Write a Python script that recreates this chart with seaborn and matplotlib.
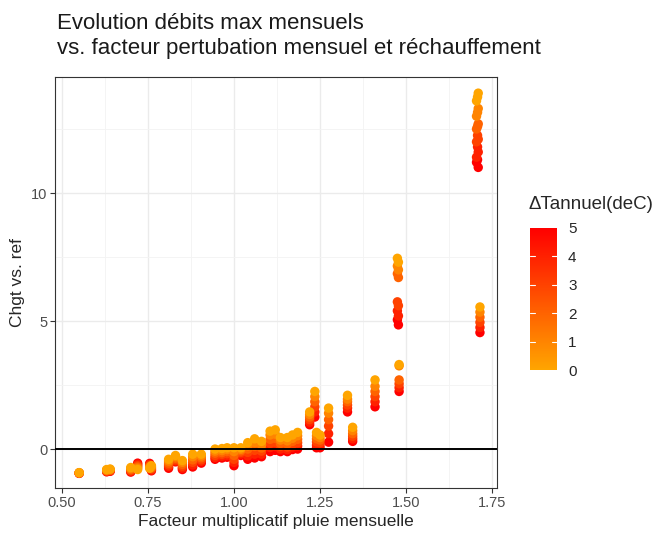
import matplotlib
matplotlib.use("Agg")
import matplotlib.pyplot as plt
import numpy as np
import pandas as pd
import seaborn as sns
from matplotlib.colors import LinearSegmentedColormap, Normalize
from matplotlib.cm import ScalarMappable
from matplotlib.ticker import MultipleLocator

# rain factor of each column, and change vs. reference for each warming level (0..5 degC)
factor = [0.55, 0.63, 0.64, 0.70, 0.72, 0.755, 0.76, 0.81, 0.83, 0.85, 0.88, 0.905,
          0.945, 0.965, 0.98, 1.00, 1.02, 1.04, 1.06, 1.08, 1.105, 1.12, 1.135, 1.155,
          1.17, 1.185, 1.22, 1.235, 1.24, 1.25, 1.275, 1.33, 1.345, 1.41,
          1.475, 1.478, 1.48, 1.705, 1.71, 1.715, 1.708]
chg_dt0 = [-0.92, -0.80, -0.78, -0.72, -0.80, -0.75, -0.65, -0.40, -0.25, -0.45, -0.20, -0.20,
           0.00, 0.02, 0.05, 0.05, 0.05, 0.25, 0.40, 0.30, 0.70, 0.75, 0.45, 0.45,
           0.55, 0.65, 1.45, 2.25, 0.65, 0.55, 1.60, 2.10, 0.85, 2.70,
           7.45, 7.30, 3.30, 13.60, 13.90, 5.55, 13.75]
chg_dt1 = [-0.93, -0.82, -0.80, -0.76, -0.75, -0.72, -0.70, -0.47, -0.30, -0.52, -0.30, -0.27,
           -0.08, -0.06, -0.02, -0.10, -0.01, 0.12, 0.25, 0.17, 0.55, 0.58, 0.35, 0.32,
           0.42, 0.52, 1.35, 2.05, 0.52, 0.45, 1.40, 1.95, 0.72, 2.45,
           7.15, 7.00, 3.25, 13.00, 13.30, 5.35, 13.15]
chg_dt2 = [-0.93, -0.84, -0.82, -0.80, -0.70, -0.68, -0.74, -0.55, -0.36, -0.60, -0.42, -0.34,
           -0.16, -0.14, -0.10, -0.25, -0.07, 0.00, 0.10, 0.04, 0.38, 0.42, 0.22, 0.20,
           0.30, 0.38, 1.25, 1.85, 0.40, 0.35, 1.15, 1.85, 0.60, 2.25,
           6.85, 6.70, 2.70, 12.50, 12.70, 5.15, 12.60]
chg_dt3 = [-0.94, -0.86, -0.84, -0.84, -0.65, -0.64, -0.78, -0.62, -0.42, -0.67, -0.52, -0.42,
           -0.25, -0.21, -0.18, -0.40, -0.13, -0.13, -0.05, -0.08, 0.22, 0.26, 0.10, 0.08,
           0.18, 0.25, 1.15, 1.65, 0.28, 0.25, 0.90, 1.72, 0.50, 2.05,
           5.75, 5.60, 2.55, 12.00, 12.10, 4.95, 12.25]
chg_dt4 = [-0.94, -0.87, -0.85, -0.87, -0.60, -0.60, -0.82, -0.68, -0.46, -0.74, -0.62, -0.48,
           -0.33, -0.28, -0.25, -0.52, -0.19, -0.27, -0.20, -0.20, 0.06, 0.10, 0.00, -0.02,
           0.08, 0.12, 1.05, 1.45, 0.15, 0.15, 0.60, 1.60, 0.40, 1.85,
           5.40, 5.20, 2.40, 11.40, 11.60, 4.75, 11.80]
chg_dt5 = [-0.95, -0.89, -0.87, -0.90, -0.55, -0.56, -0.85, -0.75, -0.50, -0.80, -0.70, -0.55,
           -0.40, -0.35, -0.32, -0.65, -0.25, -0.40, -0.35, -0.30, -0.10, -0.05, -0.10, -0.10,
           -0.02, 0.00, 0.95, 1.25, 0.05, 0.05, 0.27, 1.45, 0.30, 1.65,
           5.05, 4.85, 2.25, 11.20, 11.00, 4.55, 11.30]
warming = [0, 1, 2, 3, 4, 5]

series = [chg_dt0, chg_dt1, chg_dt2, chg_dt3, chg_dt4, chg_dt5]
# warmest first so the cooler (orange) points end up on top
df = pd.concat(
    [pd.DataFrame({"factor": factor, "change": vals, "dT": dt})
     for dt, vals in reversed(list(zip(warming, series)))],
    ignore_index=True,
)

sns.set_style("white")
plt.rcParams["font.family"] = ["Liberation Sans", "DejaVu Sans"]

cmap = LinearSegmentedColormap.from_list("orange_red", ["#FFA500", "#FF0000"])
norm = Normalize(0, 5)

fig = plt.figure(figsize=(6.56, 5.36), dpi=100)
ax = fig.add_axes([0.0838, 0.0896, 0.6738, 0.7667])

sns.scatterplot(data=df, x="factor", y="change", hue="dT", palette=cmap, hue_norm=norm,
                s=46, linewidth=0, alpha=1, legend=False, ax=ax, zorder=3)
ax.axhline(0, color="black", lw=1.4, zorder=4)

ax.set_xlim(0.4797, 1.7645)
ax.set_ylim(-1.52, 14.53)
ax.xaxis.set_minor_locator(MultipleLocator(0.125))
ax.yaxis.set_major_locator(MultipleLocator(5))
ax.yaxis.set_minor_locator(MultipleLocator(2.5))
ax.set_xticks([0.5, 0.75, 1.0, 1.25, 1.5, 1.75])
ax.set_xticklabels(["0.50", "0.75", "1.00", "1.25", "1.50", "1.75"])
ax.grid(which="major", color="#EBEBEB", lw=1.0, zorder=0)
ax.grid(which="minor", color="#F3F3F3", lw=0.6, zorder=0)
ax.set_axisbelow(True)
ax.tick_params(which="major", direction="out", length=3.5, width=0.8, color="#333333",
               labelsize=10.5, labelcolor="#4D4D4D", pad=2, bottom=True, left=True)
ax.tick_params(which="minor", length=0)
for sp in ax.spines.values():
    sp.set_color("#333333")
    sp.set_linewidth(0.8)

ax.set_xlabel("Facteur multiplicatif pluie mensuelle", fontsize=12.5, labelpad=3)
ax.set_ylabel("Chgt vs. ref", fontsize=12.5, labelpad=4)
fig.text(0.087, 0.933, "Evolution débits max mensuels\nvs. facteur pertubation mensuel et réchauffement",
         fontsize=16, ha="left", va="center", linespacing=1.2, color="#1A1A1A")

# colour bar legend
cax = fig.add_axes([0.808, 0.3097, 0.041, 0.265])
cb = fig.colorbar(ScalarMappable(norm=norm, cmap=cmap), cax=cax, ticks=[0, 1, 2, 3, 4, 5])
cb.outline.set_visible(False)
cax.tick_params(length=0, labelsize=11, pad=8)
for t in [1, 2, 3, 4]:
    cax.plot([0, 0.2], [t, t], color="white", lw=0.8, transform=cax.get_yaxis_transform())
    cax.plot([0.8, 1.0], [t, t], color="white", lw=0.8, transform=cax.get_yaxis_transform())
fig.text(0.806, 0.618, "ΔTannuel(deC)", fontsize=13.5, ha="left", va="center")

fig.savefig("out.png", dpi=100)
